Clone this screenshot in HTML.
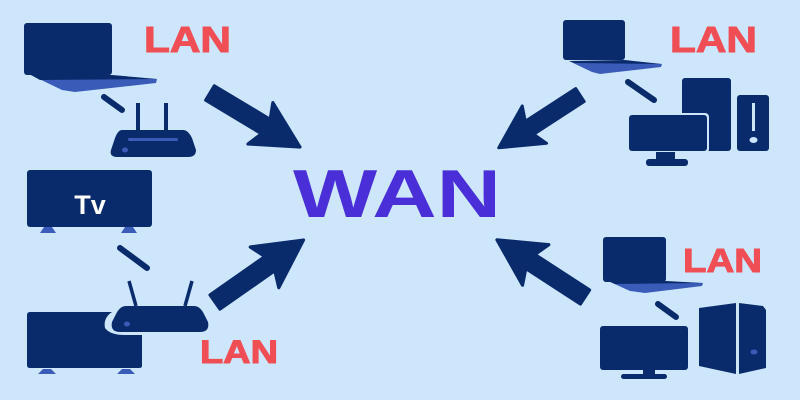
<!DOCTYPE html>
<html><head><meta charset="utf-8"><style>
html,body{margin:0;padding:0;background:#cde6fb;}
svg{display:block}
</style></head><body>
<svg width="800" height="400" viewBox="0 0 800 400" xmlns="http://www.w3.org/2000/svg">
<rect width="800" height="400" fill="#cde6fb"/>
<defs>
<g id="ar"><polygon points="0,-8 62,-8 56,-23 100,0 56,23 62,8 0,8" fill="#0a2b6b" stroke="#0a2b6b" stroke-width="3" stroke-linejoin="round"/></g>
</defs>
<g fill="#0a2b6b">
<!-- TL laptop -->
<rect x="24" y="23" width="88" height="52" rx="3"/>
<polygon points="31,75 157,79 156,83 75,92 62,90" fill="#3b5bb8"/>
<polygon points="31,75 112,75 157,79 40,80"/>
<line x1="104" y1="97" x2="122" y2="110" stroke="#0a2b6b" stroke-width="6" stroke-linecap="round"/>
<!-- router1 -->
<rect x="136" y="103" width="4" height="30"/><rect x="164" y="103" width="4" height="30"/>
<path d="M122,130 H183 Q188,130 192,138 L196,150 Q196,157 188,157 H118 Q109,157 111,150 L115,138 Q118,130 122,130Z"/>
<rect x="128" y="138" width="50" height="3" rx="1.5" fill="#3b5bb8"/>
<ellipse cx="125" cy="150" rx="3" ry="2.5" fill="#3b5bb8"/>
<!-- TV -->
<rect x="27" y="170" width="125" height="57" rx="3"/>
<path d="M40,233 l4,-6 h8 l4,6z M121,233 l4,-6 h8 l4,6z" fill="#3b5bb8"/>
<line x1="120" y1="248" x2="147" y2="268" stroke="#0a2b6b" stroke-width="6" stroke-linecap="round"/>
<!-- box2 -->
<path d="M30,312 H112 Q103,318 105,328 Q110,335 125,335 H142 V366 Q142,368 139,368 H30 Q27,368 27,365 V315 Q27,312 30,312Z"/>
<path d="M38,374 l5,-5 h8 l5,5z M117,374 l5,-5 h8 l5,5z" fill="#3b5bb8"/>
<!-- router2 -->
<line x1="129" y1="281" x2="136" y2="306" stroke="#0a2b6b" stroke-width="3.5"/>
<line x1="192" y1="281" x2="185" y2="306" stroke="#0a2b6b" stroke-width="3.5"/>
<path d="M126,306 H194 Q200,306 204,314 L208,322 Q210,332 200,332 H120 Q110,332 112,322 L116,314 Q120,306 126,306Z"/>
<ellipse cx="127" cy="324" rx="3" ry="2.5" fill="#3b5bb8"/>
<!-- TR laptop -->
<rect x="563" y="20" width="62" height="40" rx="3"/>
<polygon points="569,61 662,64 661,67 600,74 592,72" fill="#3b5bb8"/>
<polygon points="569,61 625,60 662,64 575,63"/>
<line x1="628" y1="82" x2="654" y2="100" stroke="#0a2b6b" stroke-width="6" stroke-linecap="round"/>
<rect x="682" y="78" width="49" height="73" rx="3"/>
<rect x="627" y="113" width="82" height="40" rx="4" fill="#cde6fb"/>
<rect x="629" y="115" width="78" height="36" rx="3"/>
<rect x="656" y="152" width="19" height="8"/>
<rect x="646" y="159" width="42" height="7" rx="3"/>
<rect x="737" y="95" width="32" height="56" rx="3"/>
<rect x="752" y="103" width="3" height="28" fill="#cde6fb"/>
<ellipse cx="753.5" cy="140" rx="4" ry="3" fill="#cde6fb"/>
<!-- BR laptop -->
<rect x="603" y="237" width="63" height="45" rx="3"/>
<polygon points="608,281 703,283 702,286 645,293 630,291" fill="#3b5bb8"/>
<polygon points="608,281 666,281 703,283 615,284"/>
<line x1="658" y1="304" x2="676" y2="317" stroke="#0a2b6b" stroke-width="6" stroke-linecap="round"/>
<rect x="600" y="326" width="88" height="44" rx="3"/>
<rect x="643" y="369" width="12" height="6"/>
<rect x="621" y="374" width="46" height="5" rx="2.5"/>
<polygon points="699,308 736,303 736,374 699,366" />
<polygon points="739,303 763,306 766,310 766,368 739,374"/>
<ellipse cx="754" cy="352" rx="3.5" ry="2.5" fill="#3b5bb8"/>
</g>
<!-- arrows -->
<use href="#ar" transform="translate(210,93) rotate(31) scale(1.05)"/>
<use href="#ar" transform="translate(215,302) rotate(-35) scale(1.08)"/>
<use href="#ar" transform="translate(580,95) rotate(147) scale(0.97)"/>
<use href="#ar" transform="translate(585,297) rotate(213) scale(1.05)"/>
<!-- text -->
<g font-family="Liberation Sans, sans-serif" font-weight="bold">
<text x="90" y="214" font-size="27" fill="#fff" text-anchor="middle">Tv</text>
<text x="144" y="52" font-size="36" fill="#f04e55" textLength="87" lengthAdjust="spacingAndGlyphs" stroke="#f04e55" stroke-width="1">LAN</text>
<text x="200" y="363" font-size="32" fill="#f04e55" textLength="78" lengthAdjust="spacingAndGlyphs" stroke="#f04e55" stroke-width="1">LAN</text>
<text x="670" y="52" font-size="36" fill="#f04e55" textLength="87" lengthAdjust="spacingAndGlyphs" stroke="#f04e55" stroke-width="1">LAN</text>
<text x="683" y="272" font-size="33" fill="#f04e55" textLength="79" lengthAdjust="spacingAndGlyphs" stroke="#f04e55" stroke-width="1">LAN</text>
<text x="293" y="217" font-size="68" fill="#4a2ed8" textLength="208" lengthAdjust="spacingAndGlyphs">WAN</text>
</g>
</svg>
</body></html>
